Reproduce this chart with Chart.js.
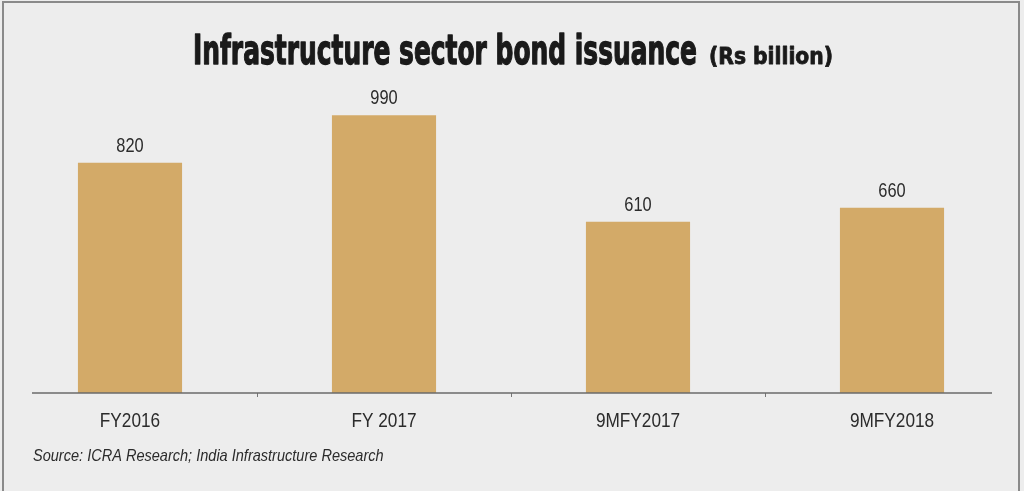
<!DOCTYPE html>
<html>
<head>
<meta charset="utf-8">
<script src="https://cdn.jsdelivr.net/npm/chart.js@4.4.1/dist/chart.umd.min.js"></script>
<style>
  html, body { margin: 0; padding: 0; background: #ededed; }
  #wrap { position: relative; width: 1024px; height: 491px; }
  #frame { position: absolute; left: 2px; top: 1px; width: 1018px; height: 500px;
           border: 2px solid #8a8a8a; box-sizing: border-box; pointer-events: none; }
</style>
</head>
<body>
<div id="wrap">
  <canvas id="grafico" width="1024" height="491"></canvas>
  <div id="frame"></div>
</div>
<script>
// dados
const categorias = ["FY2016", "FY 2017", "9MFY2017", "9MFY2018"];
const emissoes = [820, 990, 610, 660];
const titulo = "Infrastructure sector bond issuance";
const unidade = "(Rs billion)";
const fonte = "Source: ICRA Research; India Infrastructure Research";

const corBarra = "#d3aa68";
const corTexto = "#2b2b2b";
const fonteBase = "'Liberation Sans', Arial";

// texto estreito (não há fonte "narrow" instalada, então comprime na horizontal)
function textoEstreito(ctx, txt, x, y, align, fator = 0.82) {
  ctx.save();
  ctx.translate(x, y);
  ctx.scale(fator, 1);
  ctx.textAlign = align;
  ctx.fillText(txt, 0, 0);
  ctx.restore();
}

// título condensado e bem pesado, desenhado no canvas e ajustado à largura
function tituloPesado(ctx, txt, x, y, largura) {
  const w = ctx.measureText(txt).width;
  ctx.save();
  ctx.translate(x, y);
  ctx.scale(largura / w, 1);
  ctx.fillText(txt, 0, 0);
  ctx.strokeText(txt, 0, 0);
  ctx.restore();
}

const pluginTitulo = {
  id: "titulo",
  afterDraw(chart) {
    const ctx = chart.ctx;
    ctx.save();
    ctx.fillStyle = "#1a1a1a";
    ctx.strokeStyle = "#1a1a1a";
    ctx.lineJoin = "round";
    ctx.textBaseline = "alphabetic";
    ctx.lineWidth = 1.3;
    ctx.font = "bold 41px 'DejaVu Sans Condensed', 'DejaVu Sans'";
    tituloPesado(ctx, titulo, 193, 64, 504);
    ctx.lineWidth = 0.8;
    ctx.font = "bold 23px 'DejaVu Sans Condensed', 'DejaVu Sans'";
    tituloPesado(ctx, unidade, 709, 64, 124);
    ctx.restore();
  }
};

// valores acima das barras, rótulos do eixo, linha de base e fonte
const pluginRotulos = {
  id: "rotulos",
  afterDatasetsDraw(chart) {
    const ctx = chart.ctx;
    const area = chart.chartArea;
    const eixoX = chart.scales.x;
    ctx.save();
    ctx.strokeStyle = "#6a6a6a";
    ctx.lineWidth = 1.5;
    ctx.beginPath();
    ctx.moveTo(32, area.bottom);
    ctx.lineTo(992, area.bottom);
    ctx.stroke();

    ctx.fillStyle = corTexto;
    ctx.textBaseline = "alphabetic";
    ctx.font = "20px " + fonteBase;
    chart.getDatasetMeta(0).data.forEach((bar, i) => {
      textoEstreito(ctx, String(emissoes[i]), bar.x, bar.y - 11, "center");
    });

    ctx.font = "21px " + fonteBase;
    categorias.forEach((cat, i) => {
      textoEstreito(ctx, cat, eixoX.getPixelForValue(i), area.bottom + 34, "center");
    });

    ctx.font = "italic 17px " + fonteBase;
    textoEstreito(ctx, fonte, 33, 461, "left", 0.855);
    ctx.restore();
  }
};

const ctx = document.getElementById("grafico").getContext("2d");
new Chart(ctx, {
  type: "bar",
  data: {
    labels: categorias,
    datasets: [{
      data: emissoes,
      backgroundColor: corBarra,
      barPercentage: 0.41,
      categoryPercentage: 1
    }]
  },
  options: {
    responsive: false,
    animation: false,
    layout: { padding: { left: 3, right: 5, top: 59, bottom: 0 } },
    plugins: {
      legend: { display: false },
      tooltip: { enabled: false },
      title: { display: false }
    },
    scales: {
      x: {
        offset: true,
        border: { display: false },
        grid: {
          offset: true,
          drawOnChartArea: false,
          tickLength: 4,
          lineWidth: 1,
          color: (c) => (c.index === 0 || c.index === categorias.length) ? "rgba(0,0,0,0)" : "#777"
        },
        ticks: { display: false },
        afterFit: (s) => { s.height = 98; }
      },
      y: {
        display: false,
        min: 0,
        max: 1190
      }
    }
  },
  plugins: [pluginTitulo, pluginRotulos]
});
</script>
</body>
</html>
